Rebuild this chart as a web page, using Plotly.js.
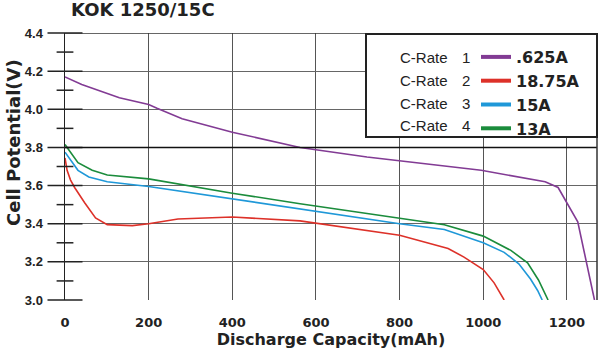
<!DOCTYPE html>
<html>
<head>
<meta charset="utf-8">
<script src="https://cdn.plot.ly/plotly-3.0.1.min.js"></script>
<style>html,body{margin:0;padding:0;background:#fff;}#chart{width:600px;height:350px;}</style>
</head>
<body>
<div id="chart"></div>
<script>
// ---- data ----
const chartTitle = "KOK 1250/15C";
const xTitle = "Discharge Capacity(mAh)";
const yTitle = "Cell Potential(V)";
const seriesNames = [".625A", "18.75A", "15A", "13A"];
const rateLabels = ["1", "2", "3", "4"];
const xTicks = [0, 200, 400, 600, 800, 1000, 1200];
const yTicks = [3.0, 3.2, 3.4, 3.6, 3.8, 4.0, 4.2, 4.4];

const purpleX = [0, 40, 130, 200, 220, 280, 400, 450, 562, 722, 800, 995, 1148, 1179, 1226, 1266];
const purpleY = [4.17, 4.13, 4.06, 4.025, 4.005, 3.95, 3.88, 3.855, 3.80, 3.75, 3.73, 3.68, 3.62, 3.59, 3.41, 3.0];

const redX = [0, 5, 13, 23, 47, 73, 101, 135, 161, 200, 270, 400, 562, 800, 916, 954, 1000, 1026, 1050];
const redY = [3.745, 3.68, 3.63, 3.59, 3.51, 3.43, 3.395, 3.39, 3.39, 3.40, 3.425, 3.435, 3.415, 3.34, 3.27, 3.225, 3.16, 3.09, 3.0];

const blueX = [0, 31, 57, 101, 200, 400, 564, 800, 907, 1000, 1050, 1085, 1113, 1130, 1141];
const blueY = [3.775, 3.68, 3.645, 3.62, 3.595, 3.53, 3.477, 3.40, 3.37, 3.30, 3.25, 3.19, 3.11, 3.05, 3.0];

const greenX = [0, 31, 65, 101, 200, 400, 562, 800, 907, 1000, 1066, 1106, 1132, 1155];
const greenY = [3.815, 3.72, 3.68, 3.655, 3.635, 3.56, 3.505, 3.43, 3.395, 3.335, 3.26, 3.195, 3.105, 3.0];

const colors = ["#823b94", "#dd3129", "#1f98d8", "#1b8c3c"];
// ---------------------------------------

const xs = [purpleX, redX, blueX, greenX];
const ys = [purpleY, redY, blueY, greenY];
const yMinor = yTicks.slice(0, -1).map(v => +(v + 0.1).toFixed(1));

const data = [];
for (let i = 0; i < 4; i++) {
  data.push({x: xs[i], y: ys[i], type: "scatter", mode: "lines", name: seriesNames[i],
    line: {color: colors[i], width: 1.6}, showlegend: false, hoverinfo: "skip"});
}
for (let i = 0; i < 4; i++) {
  data.push({x: [null], y: [null], type: "scatter", mode: "lines", name: seriesNames[i],
    line: {color: colors[i], width: 4}, showlegend: true});
}
// tick marks that cross the y-axis line (major and minor), placed on the axis through the y scale
data.push({x: yTicks.map(() => 0), y: yTicks, type: "scatter", mode: "markers", cliponaxis: false,
  marker: {symbol: "line-ew", size: 25, line: {color: "#222", width: 1.5}},
  showlegend: false, hoverinfo: "skip"});
data.push({x: yMinor.map(() => 0), y: yMinor, type: "scatter", mode: "markers", cliponaxis: false,
  marker: {symbol: "line-ew", size: 12, line: {color: "#222", width: 1.5}},
  showlegend: false, hoverinfo: "skip"});

const L = 65, R = 3, T = 33, B = 50, W = 600, H = 350;
const pw = W - L - R, ph = H - T - B;
const px = v => (v - L) / pw;
const py = v => (H - B - v) / ph;

const rowY = [57, 80, 103, 126];
const annotations = [];
for (let i = 0; i < 4; i++) {
  annotations.push({xref: "paper", yref: "paper", x: px(398), y: py(rowY[i]), xanchor: "left", yanchor: "middle",
    text: "C-Rate", showarrow: false, font: {family: "Liberation Sans, Arial, sans-serif", size: 15, color: "#222"}});
  annotations.push({xref: "paper", yref: "paper", x: px(466), y: py(rowY[i]), xanchor: "center", yanchor: "middle",
    text: rateLabels[i], showarrow: false, font: {family: "Liberation Sans, Arial, sans-serif", size: 15, color: "#222"}});
}
annotations.push({xref: "paper", yref: "paper", x: px(69), y: py(9), xanchor: "left", yanchor: "middle",
  text: "<b>" + chartTitle + "</b>", showarrow: false, font: {family: "DejaVu Sans", size: 18, color: "#222"}});
annotations.push({xref: "paper", yref: "paper", x: px(13), y: py(143), xanchor: "center", yanchor: "middle",
  textangle: -90, text: "<b>" + yTitle + "</b>", showarrow: false, font: {family: "DejaVu Sans", size: 18, color: "#222"}});

const layout = {
  width: W, height: H,
  margin: {l: L, r: R, t: T, b: B, pad: 0},
  paper_bgcolor: "#fff", plot_bgcolor: "#fff",
  showlegend: true,
  legend: {x: px(476), y: py(40), xanchor: "left", yanchor: "top", bgcolor: "rgba(0,0,0,0)",
    borderwidth: 0, font: {family: "DejaVu Sans", size: 16, color: "#222", weight: "bold"}, tracegroupgap: 0},
  xaxis: {range: [0, 1272], tickvals: xTicks, ticktext: xTicks.map(String),
    showgrid: true, gridcolor: "#555", gridwidth: 1, zeroline: false,
    showline: false, ticks: "outside", ticklen: 10, tickcolor: "rgba(0,0,0,0)",
    tickfont: {family: "DejaVu Sans", size: 13, color: "#222", weight: "bold"},
    title: {text: "<b>" + xTitle + "</b>", standoff: 4, font: {family: "DejaVu Sans", size: 16, color: "#222"}},
    fixedrange: true},
  yaxis: {range: [3.0, 4.4], tickvals: yTicks, ticktext: yTicks.map(v => v.toFixed(1)),
    showgrid: true, gridcolor: "#666", gridwidth: 1, zeroline: false,
    showline: true, linecolor: "#222", linewidth: 1.5,
    ticks: "outside", ticklen: 12, tickwidth: 1.5, tickcolor: "rgba(0,0,0,0)", ticklabelstandoff: 6,
    tickfont: {family: "Liberation Sans Narrow, Liberation Sans, Arial", size: 13, color: "#222", weight: "bold"},
    fixedrange: true},
  shapes: [
    {type: "line", xref: "paper", yref: "y", x0: 0, x1: 1, y0: 3.8, y1: 3.8, line: {color: "#111", width: 1.5}, layer: "above"},
    {type: "line", xref: "paper", yref: "y", x0: 0, x1: 1, y0: 4.4, y1: 4.4, line: {color: "#333", width: 1.5}, layer: "above"},
    {type: "line", xref: "paper", yref: "paper", x0: 1, x1: 1, y0: 0, y1: 1, line: {color: "#333", width: 1.5}, layer: "above"},
    {type: "rect", xref: "paper", yref: "paper", x0: px(366), x1: px(597), y0: py(137), y1: py(34),
      fillcolor: "#fff", line: {color: "#222", width: 2}, layer: "above"}
  ],
  annotations: annotations
};

Plotly.newPlot("chart", data, layout, {staticPlot: true, displayModeBar: false});
</script>
</body>
</html>
